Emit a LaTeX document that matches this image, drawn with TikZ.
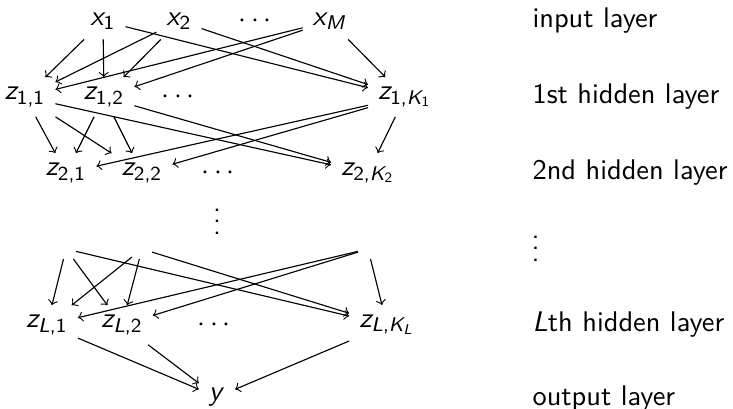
\documentclass[tikz,border=0pt]{standalone}
% sans-serif math letters and digits, as in slides
\DeclareSymbolFont{sfletters}{OT1}{cmss}{m}{sl}
\DeclareSymbolFont{sfdigits}{OT1}{cmss}{m}{n}
\DeclareMathSymbol{x}{\mathalpha}{sfletters}{`x}
\DeclareMathSymbol{y}{\mathalpha}{sfletters}{`y}
\DeclareMathSymbol{z}{\mathalpha}{sfletters}{`z}
\DeclareMathSymbol{K}{\mathalpha}{sfletters}{`K}
\DeclareMathSymbol{L}{\mathalpha}{sfletters}{`L}
\DeclareMathSymbol{M}{\mathalpha}{sfletters}{`M}
\DeclareMathSymbol{1}{\mathalpha}{sfdigits}{`1}
\DeclareMathSymbol{2}{\mathalpha}{sfdigits}{`2}
\DeclareMathSymbol{,}{\mathpunct}{sfdigits}{`,}
\begin{document}
\begin{tikzpicture}[x=0.352pt, y=-0.352pt, font=\sffamily,
  lnk/.style={->},
  lbl/.style={anchor=west, inner sep=0pt}]
\useasboundingbox (0,0) rectangle (733,409);

% input layer
\node (x1) at (103,21) {$x_1$};
\node (x2) at (179,21) {$x_2$};
\node (xd) at (255,21) {$\cdots$};
\node (xM) at (330,21) {$x_M$};

% first hidden layer
\node (z11) at (25,97) {$z_{1,1}$};
\node (z12) at (104,97) {$z_{1,2}$};
\node (z1d) at (178,97) {$\cdots$};
\node (z1K) at (405,97) {$z_{1,K_1}$};

% second hidden layer
\node (z21) at (66,173) {$z_{2,1}$};
\node (z22) at (142,173) {$z_{2,2}$};
\node (z2d) at (218,173) {$\cdots$};
\node (z2K) at (368,173) {$z_{2,K_2}$};

\node (vd) at (217,213) {$\vdots$};

% (L-1)th layer, left out of the drawing
\node (h1) at (66,249) {};
\node (h2) at (142,249) {};
\node (h3) at (368,249) {};

% Lth hidden layer
\node (zL1) at (47,325) {$z_{L,1}$};
\node (zL2) at (122,325) {$z_{L,2}$};
\node (zLd) at (214,325) {$\cdots$};
\node (zLK) at (387,325) {$z_{L,K_L}$};

% output layer
\node (out) at (217,397) {$y$};

% connections
\foreach \s in {x1,x2,xM}
  \foreach \t in {z11,z12,z1K}
    \draw[lnk] (\s) -- (\t);
\foreach \s in {z11,z12,z1K}
  \foreach \t in {z21,z22,z2K}
    \draw[lnk] (\s) -- (\t);
\foreach \s in {h1,h2,h3}
  \foreach \t in {zL1,zL2,zLK}
    \draw[lnk] (\s) -- (\t);
\foreach \s in {zL1,zL2,zLK}
  \draw[lnk] (\s) -- (out);

% layer names
\node[lbl] (l0) at (532,21) {input layer};
\node[lbl] (l1) at (532,97) {1st hidden layer};
\node[lbl] (l2) at (532,173) {2nd hidden layer};
\node[lbl] (l3) at (531,240) {$\vdots$};
\node[lbl] (l4) at (532,325) {$L$th hidden layer};
\node[lbl] (l5) at (532,399) {output layer};
\end{tikzpicture}
\end{document}
